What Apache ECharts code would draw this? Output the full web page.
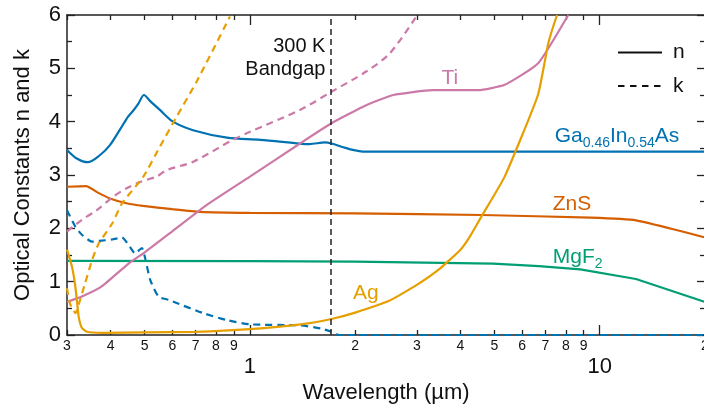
<!DOCTYPE html>
<html>
<head>
<meta charset="utf-8">
<style>
body { margin: 0; background: #fff; }
#chart { width: 704px; height: 408px; }
</style>
<script src="https://cdn.jsdelivr.net/npm/echarts/dist/echarts.min.js"></script>
</head>
<body>
<div id="chart"></div>
<script type="text/javascript">
// wavelengths in um
var gainasNWl = [0.3, 0.32, 0.344, 0.373, 0.398, 0.425, 0.448, 0.463, 0.48, 0.498, 0.518, 0.553, 0.603, 0.688, 0.86, 1.07, 1.39, 1.48, 1.64, 1.71, 1.85, 1.97, 2.1, 20];
var gainasN   = [3.47, 3.31, 3.24, 3.375, 3.56, 3.85, 4.09, 4.2, 4.34, 4.5, 4.39, 4.22, 4.0, 3.84, 3.70, 3.66, 3.59, 3.58, 3.61, 3.59, 3.52, 3.47, 3.44, 3.44];
var gainasKWl = [0.3, 0.317, 0.331, 0.354, 0.377, 0.404, 0.431, 0.45, 0.47, 0.491, 0.503, 0.519, 0.548, 0.586, 0.617, 0.736, 0.858, 1.0, 1.39, 1.6, 1.71, 1.8, 20];
var gainasK   = [2.34, 2.03, 1.88, 1.75, 1.77, 1.79, 1.83, 1.69, 1.53, 1.63, 1.41, 1.03, 0.72, 0.66, 0.6, 0.41, 0.28, 0.2, 0.18, 0.12, 0.06, 0, 0];

var znsWl = [0.3, 0.34, 0.37, 0.398, 0.444, 0.495, 0.6, 0.72, 1.0, 2.0, 4.6, 9.4, 12.7, 20];
var znsN  = [2.78, 2.79, 2.66, 2.56, 2.47, 2.42, 2.36, 2.31, 2.29, 2.28, 2.25, 2.2, 2.15, 1.83];

var mgf2Wl = [0.3, 1.0, 2.0, 4.95, 6.7, 8.8, 12.7, 20];
var mgf2N  = [1.39, 1.385, 1.375, 1.34, 1.29, 1.23, 1.05, 0.62];

var tiNWl = [0.3, 0.331, 0.377, 0.45, 0.503, 0.599, 0.753, 1.0, 1.39, 1.71, 2.15, 2.57, 3.33, 4.5, 5.35, 6.66, 8.13];
var tiN   = [0.62, 0.72, 0.91, 1.34, 1.56, 1.94, 2.44, 2.97, 3.59, 3.97, 4.31, 4.5, 4.59, 4.59, 4.69, 5.09, 6.0];
var tiKWl = [0.3, 0.331, 0.365, 0.406, 0.444, 0.485, 0.541, 0.578, 0.689, 0.894, 1.0, 1.39, 1.71, 2.15, 2.51, 2.99];
var tiK   = [1.94, 2.16, 2.34, 2.59, 2.75, 2.87, 2.97, 3.09, 3.25, 3.66, 3.81, 4.22, 4.56, 4.94, 5.28, 5.97];

var agNWl = [0.3, 0.31, 0.316, 0.32, 0.324, 0.331, 0.342, 0.377, 0.5, 0.7, 1.0, 1.4, 1.71, 2.0, 2.5, 3.0, 3.5, 4.0, 4.25, 4.59, 5.35, 6.66, 7.13, 7.55];
var agN   = [1.6, 1.28, 0.97, 0.66, 0.34, 0.13, 0.06, 0.04, 0.05, 0.06, 0.11, 0.2, 0.3, 0.42, 0.64, 0.94, 1.25, 1.6, 1.84, 2.22, 2.97, 4.5, 5.47, 6.0];
var agKWl = [0.3, 0.306, 0.317, 0.327, 0.338, 0.354, 0.37, 0.404, 0.431, 0.496, 0.553, 0.617, 0.704, 0.877];
var agK   = [0.88, 0.59, 0.41, 0.66, 0.97, 1.41, 1.72, 2.09, 2.47, 2.97, 3.53, 4.09, 4.75, 5.97];

var bandgapWl = 1.71;

var minorTickWl = [0.3, 0.4, 0.5, 0.6, 0.7, 0.8, 0.9, 2, 3, 4, 5, 6, 7, 8, 9, 20];
var majorTickWl = [1, 10];

var wlMin = 0.3, wlMax = 20;

var FONT = 'Liberation Sans, Arial, sans-serif';
var C_BLUE = '#0072B2', C_VERM = '#D55E00', C_ORANGE = '#E69F00', C_GREEN = '#009E73', C_PINK = '#CC79A7';

function lg(v) { return Math.log10(v); }
function pairs(wl, vals) {
    var out = [];
    for (var i = 0; i < wl.length; i++) out.push([lg(wl[i]), vals[i]]);
    return out;
}
function lead(v) {
    var w = Math.pow(10, v);
    var p = Math.pow(10, Math.floor(Math.log10(w) + 1e-9));
    return String(Math.round(w / p));
}
function lineSeries(name, wl, vals, color, dashed, smooth, mark) {
    var s = {
        name: name,
        type: 'line',
        data: pairs(wl, vals),
        symbol: 'none',
        showSymbol: false,
        smooth: smooth,
        silent: true,
        lineStyle: { color: color, width: 2.2, type: dashed ? [7, 5] : 'solid' },
        itemStyle: { color: color },
        z: 3
    };
    if (mark) s.markPoint = mark;
    return s;
}
function tag(wl, v, text, color, pos, rich) {
    var lbl = { show: true, position: pos, distance: 0, color: color, fontFamily: FONT, fontSize: 21, formatter: text };
    if (rich) { lbl.rich = rich; lbl.lineHeight = 28; }
    return {
        symbol: 'circle', symbolSize: 0, silent: true,
        itemStyle: { color: 'transparent' },
        data: [{ coord: [lg(wl), v], label: lbl }]
    };
}
var subRich = { s: { fontSize: 14, lineHeight: 14, verticalAlign: 'bottom', fontFamily: FONT } };

var tickMinor = minorTickWl.map(lg);
var tickMajor = majorTickWl.map(lg);

function xAx(pos, ticks, len, labels) {
    var a = {
        type: 'value', gridIndex: 0, position: pos,
        min: lg(wlMin), max: lg(wlMax),
        splitLine: { show: false },
        axisLine: { show: false, onZero: false },
        axisTick: { show: true, inside: true, length: len, customValues: ticks, lineStyle: { color: '#222', width: 1.3 } },
        axisLabel: { show: false }
    };
    if (labels) a.axisLabel = labels;
    return a;
}

var xBottomMinor = xAx('bottom', tickMinor, 5, {
    show: true, customValues: tickMinor, formatter: lead, margin: 4,
    fontSize: 14, color: '#111', fontFamily: FONT, hideOverlap: false
});
xBottomMinor.axisLine = { show: true, onZero: false, lineStyle: { color: '#222', width: 1.5 } };
xBottomMinor.name = 'Wavelength (\u00b5m)';
xBottomMinor.nameLocation = 'middle';
xBottomMinor.nameGap = 47;
xBottomMinor.nameTextStyle = { fontSize: 22, color: '#111', fontFamily: FONT };

var xBottomMajor = xAx('bottom', tickMajor, 10, {
    show: true, customValues: tickMajor, margin: 21,
    formatter: function (v) { return String(Math.round(Math.pow(10, v))); },
    fontSize: 22, color: '#111', fontFamily: FONT
});
var xTopMinor = xAx('top', tickMinor, 5, null);
xTopMinor.axisLine = { show: true, onZero: false, lineStyle: { color: '#222', width: 1.5 } };
var xTopMajor = xAx('top', tickMajor, 10, null);

function yAx(pos, withLabels) {
    return {
        type: 'value', position: pos, min: 0, max: 6, interval: 1,
        splitLine: { show: false },
        axisLine: { show: true, onZero: false, lineStyle: { color: '#222', width: 1.5 } },
        axisTick: { show: true, inside: true, length: 8, lineStyle: { color: '#222', width: 1.3 } },
        minorTick: { show: true, splitNumber: 2, length: 5, lineStyle: { color: '#222', width: 1.3 } },
        axisLabel: { show: withLabels, fontSize: 22, color: '#111', fontFamily: FONT, margin: 6 },
        name: withLabels ? 'Optical Constants n and k' : '',
        nameLocation: 'middle', nameGap: 33,
        nameTextStyle: { fontSize: 22, color: '#111', fontFamily: FONT }
    };
}

var myChart = echarts.init(document.getElementById('chart'), null, { renderer: 'canvas' });

var series = [
    lineSeries('Ga0.46In0.54As n', gainasNWl, gainasN, C_BLUE, false, 0.3,
        tag(7.44, 3.72, 'Ga{s|0.46}In{s|0.54}As', C_BLUE, 'right', subRich)),
    lineSeries('Ga0.46In0.54As k', gainasKWl, gainasK, C_BLUE, true, 0.2),
    lineSeries('ZnS n', znsWl, znsN, C_VERM, false, 0.15, tag(7.34, 2.46, 'ZnS', C_VERM, 'right')),
    lineSeries('MgF2 n', mgf2Wl, mgf2N, C_GREEN, false, 0,
        tag(7.34, 1.46, 'MgF{s|2}', C_GREEN, 'right', subRich)),
    lineSeries('Ti n', tiNWl, tiN, C_PINK, false, 0.15, tag(3.73, 4.82, 'Ti', C_PINK, 'inside')),
    lineSeries('Ti k', tiKWl, tiK, C_PINK, true, 0.3),
    lineSeries('Ag n', agNWl, agN, C_ORANGE, false, 0.15, tag(1.97, 0.79, 'Ag', C_ORANGE, 'right')),
    lineSeries('Ag k', agKWl, agK, C_ORANGE, true, 0.2),
    {
        name: 'bandgap', type: 'line', data: [], silent: true,
        markLine: {
            silent: true, symbol: 'none',
            lineStyle: { color: '#222', width: 1.5, type: [6, 4] },
            label: { show: false },
            data: [{ xAxis: lg(bandgapWl) }]
        },
        markPoint: {
            symbol: 'circle', symbolSize: 0, silent: true,
            itemStyle: { color: 'transparent' },
            data: [{ coord: [lg(bandgapWl), 5.19], label: {
                show: true, position: 'left', distance: 6, align: 'right',
                formatter: '300 K\nBandgap', lineHeight: 23,
                fontSize: 20, color: '#111', fontFamily: FONT
            } }]
        }
    },
    { name: 'n', type: 'line', data: [], symbol: 'none', lineStyle: { color: '#111', width: 2.2, type: 'solid' }, itemStyle: { color: '#111' } },
    { name: 'k', type: 'line', data: [], symbol: 'none', lineStyle: { color: '#111', width: 2.2, type: [6.5, 5.5] }, itemStyle: { color: '#111' } }
];

var option = {
    animation: false,
    backgroundColor: '#fff',
    grid: { left: 67, right: -1, top: 15, bottom: 73, containLabel: false, outerBoundsMode: 'none' },
    legend: {
        data: ['n', 'k'], orient: 'vertical', left: 612, top: 37,
        itemWidth: 44, itemHeight: 14, itemGap: 12.5,
        itemStyle: { opacity: 0, borderWidth: 0 },
        textStyle: { fontSize: 21, color: '#111', fontFamily: FONT, lineHeight: 14, padding: [0, 0, 0, 6] }
    },
    xAxis: [xBottomMinor, xBottomMajor, xTopMinor, xTopMajor],
    yAxis: [yAx('left', true), yAx('right', false)],
    series: series
};

if (option && typeof option === "object") {
    myChart.setOption(option, true);
}
</script>
</body>
</html>
